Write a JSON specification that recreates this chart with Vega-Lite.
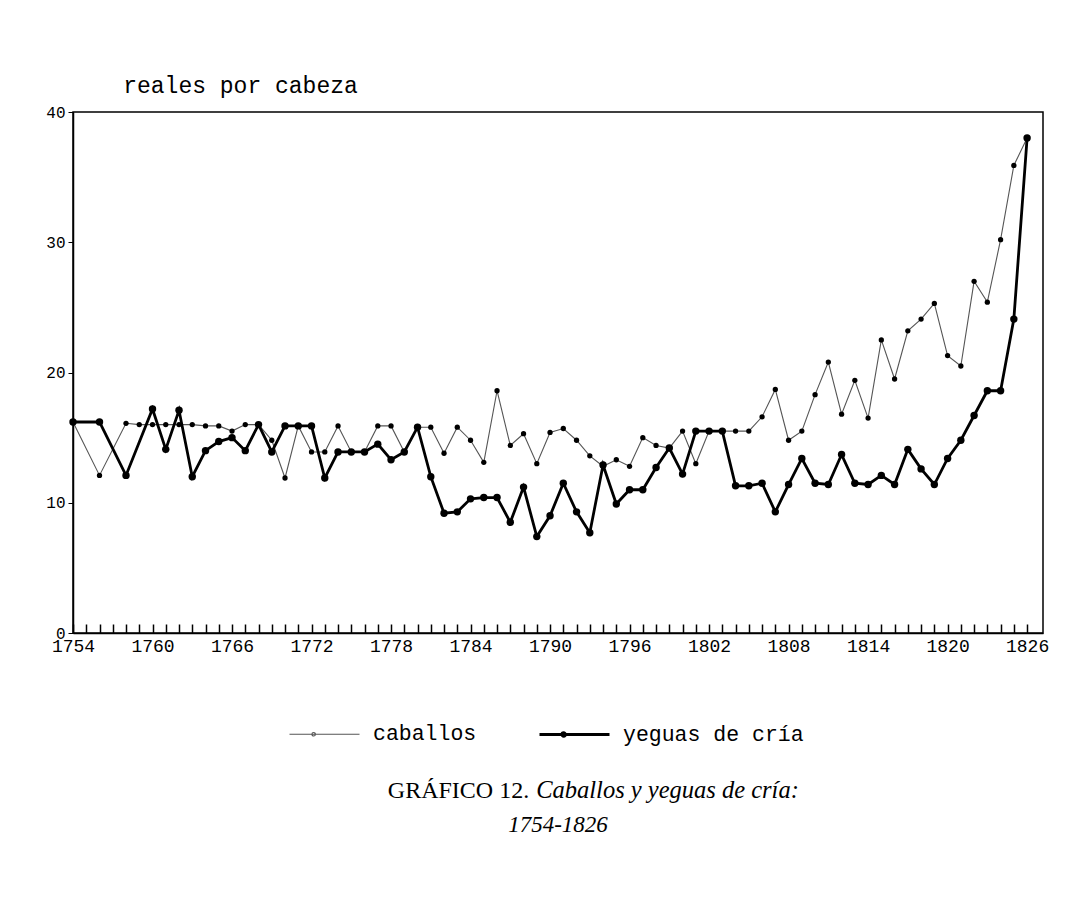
{
  "$schema": "https://vega.github.io/schema/vega-lite/v6.json",
  "width": 970,
  "height": 521,
  "autosize": {"type": "none"},
  "padding": {"left": 73, "top": 112, "right": 38, "bottom": 270},
  "background": "white",
  "data": {"values": [
    {"year":1754,"series":"caballos","value":16.2},
    {"year":1756,"series":"caballos","value":12.1},
    {"year":1758,"series":"caballos","value":16.1},
    {"year":1759,"series":"caballos","value":16.0},
    {"year":1760,"series":"caballos","value":16.0},
    {"year":1761,"series":"caballos","value":16.0},
    {"year":1762,"series":"caballos","value":16.0},
    {"year":1763,"series":"caballos","value":16.0},
    {"year":1764,"series":"caballos","value":15.9},
    {"year":1765,"series":"caballos","value":15.9},
    {"year":1766,"series":"caballos","value":15.5},
    {"year":1767,"series":"caballos","value":16.0},
    {"year":1768,"series":"caballos","value":16.0},
    {"year":1769,"series":"caballos","value":14.8},
    {"year":1770,"series":"caballos","value":11.9},
    {"year":1771,"series":"caballos","value":15.9},
    {"year":1772,"series":"caballos","value":13.9},
    {"year":1773,"series":"caballos","value":13.9},
    {"year":1774,"series":"caballos","value":15.9},
    {"year":1775,"series":"caballos","value":13.9},
    {"year":1776,"series":"caballos","value":13.9},
    {"year":1777,"series":"caballos","value":15.9},
    {"year":1778,"series":"caballos","value":15.9},
    {"year":1779,"series":"caballos","value":13.9},
    {"year":1780,"series":"caballos","value":15.8},
    {"year":1781,"series":"caballos","value":15.8},
    {"year":1782,"series":"caballos","value":13.8},
    {"year":1783,"series":"caballos","value":15.8},
    {"year":1784,"series":"caballos","value":14.8},
    {"year":1785,"series":"caballos","value":13.1},
    {"year":1786,"series":"caballos","value":18.6},
    {"year":1787,"series":"caballos","value":14.4},
    {"year":1788,"series":"caballos","value":15.3},
    {"year":1789,"series":"caballos","value":13.0},
    {"year":1790,"series":"caballos","value":15.4},
    {"year":1791,"series":"caballos","value":15.7},
    {"year":1792,"series":"caballos","value":14.8},
    {"year":1793,"series":"caballos","value":13.6},
    {"year":1794,"series":"caballos","value":12.8},
    {"year":1795,"series":"caballos","value":13.3},
    {"year":1796,"series":"caballos","value":12.8},
    {"year":1797,"series":"caballos","value":15.0},
    {"year":1798,"series":"caballos","value":14.4},
    {"year":1799,"series":"caballos","value":14.2},
    {"year":1800,"series":"caballos","value":15.5},
    {"year":1801,"series":"caballos","value":13.0},
    {"year":1802,"series":"caballos","value":15.5},
    {"year":1803,"series":"caballos","value":15.5},
    {"year":1804,"series":"caballos","value":15.5},
    {"year":1805,"series":"caballos","value":15.5},
    {"year":1806,"series":"caballos","value":16.6},
    {"year":1807,"series":"caballos","value":18.7},
    {"year":1808,"series":"caballos","value":14.8},
    {"year":1809,"series":"caballos","value":15.5},
    {"year":1810,"series":"caballos","value":18.3},
    {"year":1811,"series":"caballos","value":20.8},
    {"year":1812,"series":"caballos","value":16.8},
    {"year":1813,"series":"caballos","value":19.4},
    {"year":1814,"series":"caballos","value":16.5},
    {"year":1815,"series":"caballos","value":22.5},
    {"year":1816,"series":"caballos","value":19.5},
    {"year":1817,"series":"caballos","value":23.2},
    {"year":1818,"series":"caballos","value":24.1},
    {"year":1819,"series":"caballos","value":25.3},
    {"year":1820,"series":"caballos","value":21.3},
    {"year":1821,"series":"caballos","value":20.5},
    {"year":1822,"series":"caballos","value":27.0},
    {"year":1823,"series":"caballos","value":25.4},
    {"year":1824,"series":"caballos","value":30.2},
    {"year":1825,"series":"caballos","value":35.9},
    {"year":1826,"series":"caballos","value":38.0},
    {"year":1754,"series":"yeguas de cría","value":16.2},
    {"year":1756,"series":"yeguas de cría","value":16.2},
    {"year":1758,"series":"yeguas de cría","value":12.1},
    {"year":1760,"series":"yeguas de cría","value":17.2},
    {"year":1761,"series":"yeguas de cría","value":14.1},
    {"year":1762,"series":"yeguas de cría","value":17.1},
    {"year":1763,"series":"yeguas de cría","value":12.0},
    {"year":1764,"series":"yeguas de cría","value":14.0},
    {"year":1765,"series":"yeguas de cría","value":14.7},
    {"year":1766,"series":"yeguas de cría","value":15.0},
    {"year":1767,"series":"yeguas de cría","value":14.0},
    {"year":1768,"series":"yeguas de cría","value":16.0},
    {"year":1769,"series":"yeguas de cría","value":13.9},
    {"year":1770,"series":"yeguas de cría","value":15.9},
    {"year":1771,"series":"yeguas de cría","value":15.9},
    {"year":1772,"series":"yeguas de cría","value":15.9},
    {"year":1773,"series":"yeguas de cría","value":11.9},
    {"year":1774,"series":"yeguas de cría","value":13.9},
    {"year":1775,"series":"yeguas de cría","value":13.9},
    {"year":1776,"series":"yeguas de cría","value":13.9},
    {"year":1777,"series":"yeguas de cría","value":14.5},
    {"year":1778,"series":"yeguas de cría","value":13.3},
    {"year":1779,"series":"yeguas de cría","value":13.9},
    {"year":1780,"series":"yeguas de cría","value":15.8},
    {"year":1781,"series":"yeguas de cría","value":12.0},
    {"year":1782,"series":"yeguas de cría","value":9.2},
    {"year":1783,"series":"yeguas de cría","value":9.3},
    {"year":1784,"series":"yeguas de cría","value":10.3},
    {"year":1785,"series":"yeguas de cría","value":10.4},
    {"year":1786,"series":"yeguas de cría","value":10.4},
    {"year":1787,"series":"yeguas de cría","value":8.5},
    {"year":1788,"series":"yeguas de cría","value":11.2},
    {"year":1789,"series":"yeguas de cría","value":7.4},
    {"year":1790,"series":"yeguas de cría","value":9.0},
    {"year":1791,"series":"yeguas de cría","value":11.5},
    {"year":1792,"series":"yeguas de cría","value":9.3},
    {"year":1793,"series":"yeguas de cría","value":7.7},
    {"year":1794,"series":"yeguas de cría","value":12.9},
    {"year":1795,"series":"yeguas de cría","value":9.9},
    {"year":1796,"series":"yeguas de cría","value":11.0},
    {"year":1797,"series":"yeguas de cría","value":11.0},
    {"year":1798,"series":"yeguas de cría","value":12.7},
    {"year":1799,"series":"yeguas de cría","value":14.2},
    {"year":1800,"series":"yeguas de cría","value":12.2},
    {"year":1801,"series":"yeguas de cría","value":15.5},
    {"year":1802,"series":"yeguas de cría","value":15.5},
    {"year":1803,"series":"yeguas de cría","value":15.5},
    {"year":1804,"series":"yeguas de cría","value":11.3},
    {"year":1805,"series":"yeguas de cría","value":11.3},
    {"year":1806,"series":"yeguas de cría","value":11.5},
    {"year":1807,"series":"yeguas de cría","value":9.3},
    {"year":1808,"series":"yeguas de cría","value":11.4},
    {"year":1809,"series":"yeguas de cría","value":13.4},
    {"year":1810,"series":"yeguas de cría","value":11.5},
    {"year":1811,"series":"yeguas de cría","value":11.4},
    {"year":1812,"series":"yeguas de cría","value":13.7},
    {"year":1813,"series":"yeguas de cría","value":11.5},
    {"year":1814,"series":"yeguas de cría","value":11.4},
    {"year":1815,"series":"yeguas de cría","value":12.1},
    {"year":1816,"series":"yeguas de cría","value":11.4},
    {"year":1817,"series":"yeguas de cría","value":14.1},
    {"year":1818,"series":"yeguas de cría","value":12.6},
    {"year":1819,"series":"yeguas de cría","value":11.4},
    {"year":1820,"series":"yeguas de cría","value":13.4},
    {"year":1821,"series":"yeguas de cría","value":14.8},
    {"year":1822,"series":"yeguas de cría","value":16.7},
    {"year":1823,"series":"yeguas de cría","value":18.6},
    {"year":1824,"series":"yeguas de cría","value":18.6},
    {"year":1825,"series":"yeguas de cría","value":24.1},
    {"year":1826,"series":"yeguas de cría","value":38.0}
  ]},
  "title": {
    "text": "1754-1826",
    "orient": "bottom",
    "anchor": "middle",
    "font": "Liberation Serif",
    "fontSize": 23,
    "fontStyle": "italic",
    "fontWeight": "normal",
    "color": "black",
    "offset": 12
  },
  "config": {
    "view": {"stroke": "black", "strokeWidth": 1.5},
    "axis": {"grid": false}
  },
  "encoding": {
    "x": {
      "field": "year",
      "type": "quantitative",
      "scale": {"domain": [1754, 1827.2], "nice": false, "zero": false},
      "axis": {
        "values": [1754,1755,1756,1757,1758,1759,1760,1761,1762,1763,1764,1765,1766,1767,1768,1769,1770,1771,1772,1773,1774,1775,1776,1777,1778,1779,1780,1781,1782,1783,1784,1785,1786,1787,1788,1789,1790,1791,1792,1793,1794,1795,1796,1797,1798,1799,1800,1801,1802,1803,1804,1805,1806,1807,1808,1809,1810,1811,1812,1813,1814,1815,1816,1817,1818,1819,1820,1821,1822,1823,1824,1825,1826],
        "format": "d",
        "labelExpr": "(datum.value - 1754) % 6 === 0 ? datum.label : ''",
        "labelFont": "Liberation Mono",
        "labelFontSize": 18,
        "labelColor": "black",
        "labelPadding": 13,
        "labelOverlap": false,
        "labelFlush": false,
        "tickSize": -9,
        "tickColor": "black",
        "tickWidth": 1.5,
        "domainColor": "black",
        "domainWidth": 1.5,
        "title": "Caballos y yeguas de cría:",
        "titleFont": "Liberation Serif",
        "titleFontSize": 24.5,
        "titleFontStyle": "italic",
        "titleFontWeight": "normal",
        "titleColor": "black",
        "titleX": 594,
        "titleY": 157,
        "titleAlign": "center",
        "titleBaseline": "middle"
      }
    }
  },
  "layer": [
    {
      "mark": {"type": "line", "interpolate": "linear"},
      "encoding": {
        "y": {
          "field": "value",
          "type": "quantitative",
          "scale": {"domain": [0, 40], "nice": false},
          "axis": {
            "values": [0, 10, 20, 30, 40],
            "labelFont": "Liberation Mono",
            "labelFontSize": 16,
            "labelColor": "black",
            "labelPadding": 3,
            "labelFlush": false,
            "tickSize": 5,
            "tickColor": "black",
            "domainColor": "black",
            "domainWidth": 1.5,
            "title": "reales por cabeza",
            "titleAngle": 0,
            "titleFont": "Liberation Mono",
            "titleFontSize": 23,
            "titleFontWeight": "normal",
            "titleColor": "black",
            "titleX": 167,
            "titleY": -27,
            "titleAlign": "center",
            "titleBaseline": "middle"
          }
        },
        "color": {
          "field": "series",
          "type": "nominal",
          "scale": {"domain": ["caballos", "yeguas de cría"], "range": ["#555555", "#000000"]},
          "legend": {
            "orient": "none",
            "legendX": 215,
            "legendY": 586,
            "direction": "horizontal",
            "columns": 2,
            "columnPadding": 56,
            "title": null,
            "padding": 0,
            "labelFont": "Liberation Mono",
            "labelFontSize": 21.5,
            "labelColor": "black",
            "labelOffset": 12,
            "labelLimit": 400,
            "symbolType": "M-1,0H1M-0.36,0a0.05,0.05 0 1,0 0.1,0a0.05,0.05 0 1,0 -0.1,0",
            "symbolSize": 4900,
            "symbolStrokeWidth": 2
          }
        },
        "strokeWidth": {
          "field": "series",
          "type": "nominal",
          "scale": {"domain": ["caballos", "yeguas de cría"], "range": [1.1, 2.8]},
          "legend": {
            "orient": "none",
            "legendX": 215,
            "legendY": 586,
            "direction": "horizontal",
            "columns": 2,
            "columnPadding": 56,
            "title": null,
            "padding": 0,
            "labelFont": "Liberation Mono",
            "labelFontSize": 21.5,
            "labelColor": "black",
            "labelOffset": 12,
            "labelLimit": 400,
            "symbolType": "M-1,0H1M-0.36,0a0.05,0.05 0 1,0 0.1,0a0.05,0.05 0 1,0 -0.1,0",
            "symbolSize": 4900
          }
        }
      }
    },
    {
      "transform": [{"filter": "datum.series === 'caballos'"}],
      "mark": {"type": "point", "filled": true, "color": "black", "opacity": 1, "strokeWidth": 0, "size": 28},
      "encoding": {
        "y": {
          "field": "value",
          "type": "quantitative",
          "axis": {
            "orient": "right",
            "labels": false,
            "ticks": false,
            "domain": false,
            "grid": false,
            "title": "GRÁFICO 12.",
            "titleAngle": 0,
            "titleFont": "Liberation Serif",
            "titleFontSize": 24,
            "titleFontWeight": "normal",
            "titleColor": "black",
            "titleX": -585,
            "titleY": 678,
            "titleAlign": "center",
            "titleBaseline": "middle"
          }
        }
      }
    },
    {
      "transform": [{"filter": "datum.series === 'yeguas de cría'"}],
      "mark": {"type": "point", "filled": true, "color": "black", "opacity": 1, "strokeWidth": 0, "size": 55},
      "encoding": {
        "y": {
          "field": "value",
          "type": "quantitative",
          "axis": null
        }
      }
    }
  ],
  "resolve": {"axis": {"y": "independent"}}
}
